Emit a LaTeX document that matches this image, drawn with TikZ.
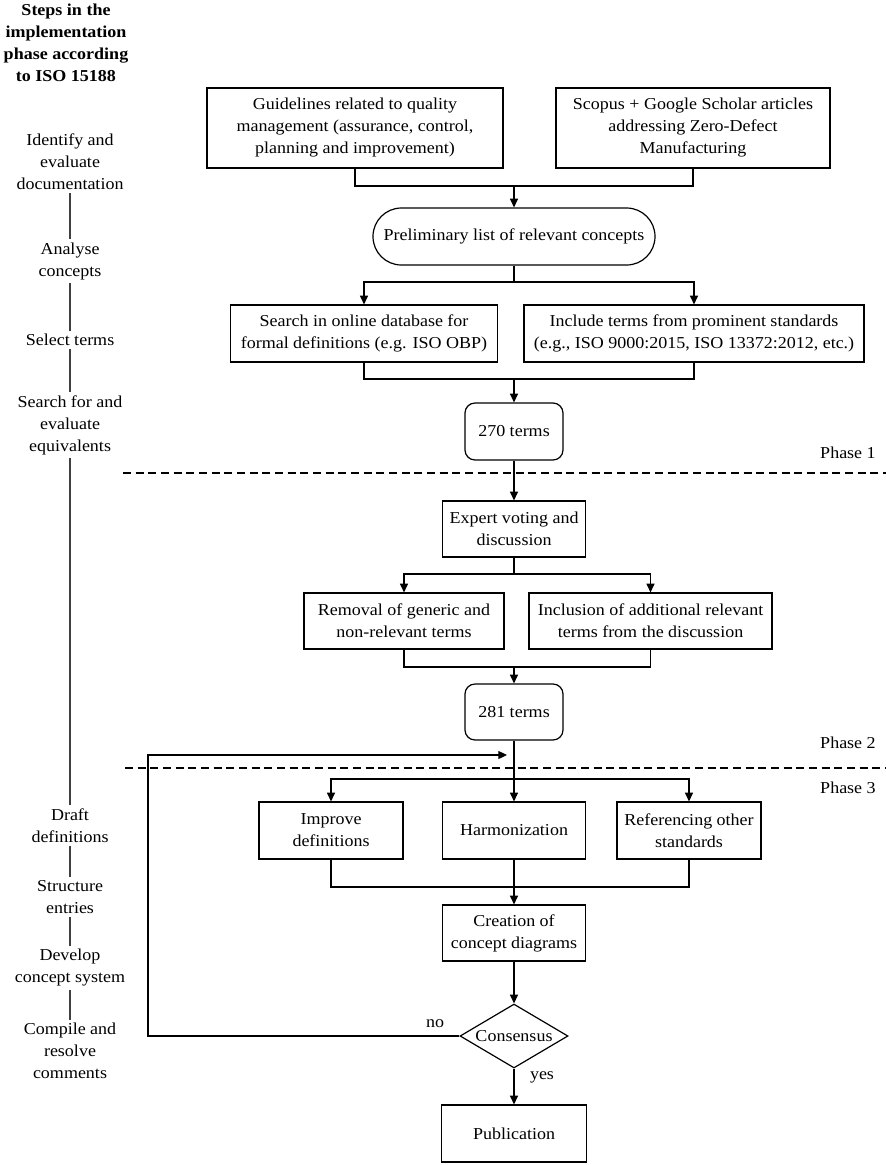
\documentclass[tikz,border=0pt]{standalone}
\usepackage{fontspec}
\setmainfont{Liberation Serif}[FakeStretch=1.08]
\usetikzlibrary{shapes.geometric,arrows.meta}
\begin{document}
\begin{tikzpicture}[x=0.75pt,y=-0.75pt,
  every node/.style={font=\fontsize{12.5pt}{16.5pt}\selectfont},
  box/.style={draw, line width=0.9pt, align=center, inner sep=0pt},
  rbox/.style={box, rounded corners=7.5pt},
  steptext/.style={align=center, inner sep=2.5pt},
  conn/.style={line width=0.9pt},
  arr/.style={conn, -{Triangle[length=6.5pt,width=6pt]}},
  phaseline/.style={line width=0.9pt, dash pattern=on 6pt off 3.5pt},
  vline/.style={line width=0.9pt, black!75}]
\useasboundingbox (0,0) rectangle (886,1165);

% ---- left column: ISO 15188 steps
\node[steptext, font=\fontsize{12.5pt}{16.5pt}\selectfont\bfseries] (title) at (66,43) {Steps in the\\implementation\\phase according\\to ISO 15188};
\node[steptext] (s1) at (70,161.5) {Identify and\\evaluate\\documentation};
\node[steptext] (s2) at (70,261) {Analyse\\concepts};
\node[steptext] (s3) at (70,340) {Select terms};
\node[steptext] (s4) at (70,425) {Search for and\\evaluate\\equivalents};
\node[steptext] (s5) at (70,825.5) {Draft\\definitions};
\node[steptext] (s6) at (70,897) {Structure\\entries};
\node[steptext] (s7) at (70,968) {Develop\\concept system};
\node[steptext] (s8) at (70,1051) {Compile and\\resolve\\comments};
\draw[vline] (s1.south) -- (s2.north);
\draw[vline] (s2.south) -- (s3.north);
\draw[vline] (s3.south) -- (s4.north);
\draw[vline] (s4.south) -- (s5.north);
\draw[vline] (s5.south) -- (s6.north);
\draw[vline] (s6.south) -- (s7.north);
\draw[vline] (s7.south) -- (s8.north);

% ---- phase separators
\coordinate (d1a) at (123,473); \coordinate (d1b) at (886,473);
\coordinate (d2a) at (125,768); \coordinate (d2b) at (886,768);
\draw[phaseline] (d1a) -- (d1b);
\draw[phaseline] (d2a) -- (d2b);
\node[anchor=east, inner sep=0pt] (ph1) at (876,453) {Phase 1};
\node[anchor=east, inner sep=0pt] (ph2) at (876,743) {Phase 2};
\node[anchor=east, inner sep=0pt] (ph3) at (876,788) {Phase 3};

% ---- Phase 1
\node[box, minimum width=222pt, minimum height=60pt] (guide) at (355,128)
  {Guidelines related to quality\\management (assurance, control,\\planning and improvement)};
\node[box, minimum width=205.5pt, minimum height=60pt] (scopus) at (693,128)
  {Scopus + Google Scholar articles\\addressing Zero-Defect\\Manufacturing};
\node[box, rounded corners=21.3pt, minimum width=211.5pt, minimum height=42.75pt] (prelim) at (514,236.5)
  {Preliminary list of relevant concepts};
\node[box, minimum width=200.25pt, minimum height=42.75pt] (search) at (364,333.5)
  {Search in online database for\\formal definitions (e.g. ISO OBP)};
\node[box, minimum width=255pt, minimum height=42.75pt] (include) at (694,333.5)
  {Include terms from prominent standards\\(e.g., ISO 9000:2015, ISO 13372:2012, etc.)};
\node[rbox, minimum width=73.5pt, minimum height=42.75pt] (t270) at (514,431.5) {270 terms};

\coordinate (j1) at (514,186);
\coordinate (j2) at (514,282);
\coordinate (j3) at (514,379);
\draw[conn] (guide.south) |- (j1) -| (scopus.south);
\draw[arr] (j1) -- (prelim.north);
\draw[conn] (prelim.south) -- (j2);
\draw[arr] (j2) -| (search.north);
\draw[arr] (j2) -| (include.north);
\draw[conn] (search.south) |- (j3) -| (include.south);
\draw[arr] (j3) -- (t270.north);

% ---- Phase 2
\node[box, minimum width=107.25pt, minimum height=42pt] (expert) at (514,529)
  {Expert voting and\\discussion};
\node[box, minimum width=150pt, minimum height=42pt] (removal) at (404,621)
  {Removal of generic and\\non-relevant terms};
\node[box, minimum width=182.25pt, minimum height=42pt] (inclusion) at (650.5,621)
  {Inclusion of additional relevant\\terms from the discussion};
\node[rbox, minimum width=73.5pt, minimum height=42pt] (t281) at (514,712) {281 terms};

\coordinate (j4) at (514,574);
\coordinate (j5) at (514,667);
\draw[arr] (t270.south) -- (expert.north);
\draw[conn] (expert.south) -- (j4);
\draw[arr] (j4) -| (removal.north);
\draw[arr] (j4) -| (inclusion.north);
\draw[conn] (removal.south) |- (j5) -| (inclusion.south);
\draw[arr] (j5) -- (t281.north);

% ---- Phase 3
\node[box, minimum width=108pt, minimum height=42.75pt] (improve) at (331,830.5)
  {Improve\\definitions};
\node[box, minimum width=107.25pt, minimum height=42.75pt] (harmon) at (514,830.5)
  {Harmonization};
\node[box, minimum width=108pt, minimum height=42.75pt] (refer) at (689,830.5)
  {Referencing other\\standards};
\node[box, minimum width=107.25pt, minimum height=42pt] (creation) at (514,933)
  {Creation of\\concept diagrams};
\node[draw, line width=0.9pt, diamond, aspect=1.69, inner sep=0pt,
  minimum width=81pt, minimum height=48pt] (consensus) at (514,1036) {Consensus};
\node[box, minimum width=108.75pt, minimum height=42.75pt] (publication) at (514,1133.5)
  {Publication};

\coordinate (j6) at (514,779);
\coordinate (j7) at (514,887);
\draw[arr] (t281.south) -- (harmon.north);
\draw[arr] (j6) -| (improve.north);
\draw[arr] (j6) -| (refer.north);
\draw[conn] (improve.south) |- (j7) -| (refer.south);
\draw[arr] (harmon.south) -- (creation.north);
\draw[arr] (creation.south) -- (consensus.north);
\draw[arr] (consensus.south) -- (publication.north);
\node[inner sep=0pt] (yes) at (542,1077) {yes};

\coordinate (c1) at (148,1036);
\coordinate (c2) at (148,755);
\coordinate (c3) at (507,755);
\draw[arr] (consensus.west) -- (c1) -- (c2) -- (c3);
\node[inner sep=0pt] (no) at (435,1024) {no};
\end{tikzpicture}
\end{document}
